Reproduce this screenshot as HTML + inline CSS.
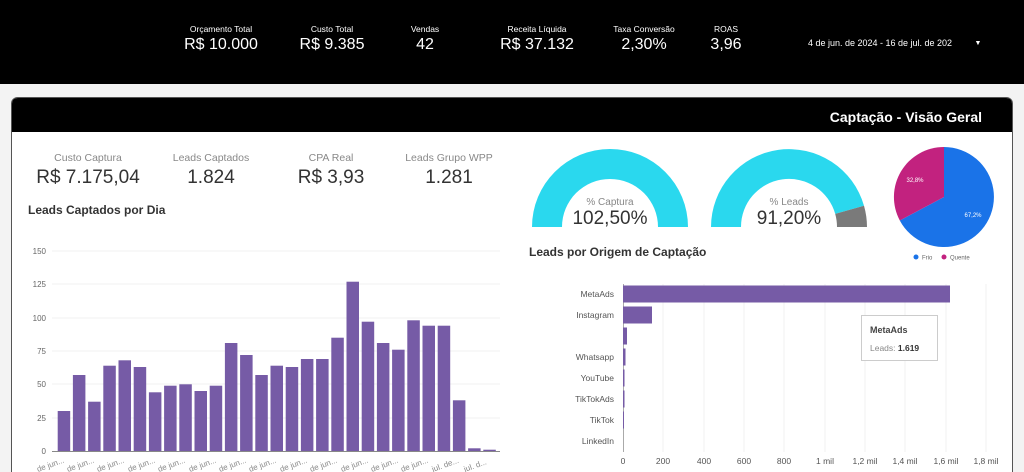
<!DOCTYPE html>
<html><head><meta charset="utf-8"><style>
body{margin:0;width:1024px;height:472px;overflow:hidden;background:#f2f2f2;font-family:"Liberation Sans",sans-serif;}
svg{display:block}
</style></head><body>
<svg width="1024" height="472" xmlns="http://www.w3.org/2000/svg" font-family="Liberation Sans, sans-serif">
<rect x="0" y="0" width="1024" height="84" fill="#000"/>
<rect x="0" y="84" width="1024" height="388" fill="#f3f3f3"/>
<g fill="#fff" text-anchor="middle">
<text x="221" y="32" font-size="8.5">Orçamento Total</text><text x="221" y="49" font-size="16">R$ 10.000</text>
<text x="332" y="32" font-size="8.5">Custo Total</text><text x="332" y="49" font-size="16">R$ 9.385</text>
<text x="425" y="32" font-size="8.5">Vendas</text><text x="425" y="49" font-size="16">42</text>
<text x="537" y="32" font-size="8.5">Receita Líquida</text><text x="537" y="49" font-size="16">R$ 37.132</text>
<text x="644" y="32" font-size="8.5">Taxa Conversão</text><text x="644" y="49" font-size="16">2,30%</text>
<text x="726" y="32" font-size="8.5">ROAS</text><text x="726" y="49" font-size="16">3,96</text>
<text x="880" y="46" font-size="9">4 de jun. de 2024 - 16 de jul. de 202</text>
<text x="978" y="45" font-size="7">▼</text>
</g>
<rect x="11.5" y="97.5" width="1001" height="380" rx="6" fill="#fff" stroke="#555"/>
<path d="M12,132 V104 Q12,98 18,98 H1006 Q1012,98 1012,104 V132 Z" fill="#000"/>
<text x="982" y="122" font-size="14" font-weight="bold" fill="#fff" text-anchor="end">Captação - Visão Geral</text>
<g text-anchor="middle">
<text x="88" y="161" font-size="10.5" fill="#888">Custo Captura</text><text x="88" y="183" font-size="19" fill="#333">R$ 7.175,04</text>
<text x="211" y="161" font-size="10.5" fill="#888">Leads Captados</text><text x="211" y="183" font-size="19" fill="#333">1.824</text>
<text x="331" y="161" font-size="10.5" fill="#888">CPA Real</text><text x="331" y="183" font-size="19" fill="#333">R$ 3,93</text>
<text x="449" y="161" font-size="10.5" fill="#888">Leads Grupo WPP</text><text x="449" y="183" font-size="19" fill="#333">1.281</text>
</g>
<text x="28" y="214" font-size="12" font-weight="bold" fill="#333">Leads Captados por Dia</text>
<g stroke="#f0f0f0"><line x1="52" y1="251" x2="500" y2="251"/><line x1="52" y1="284" x2="500" y2="284"/><line x1="52" y1="318" x2="500" y2="318"/><line x1="52" y1="351" x2="500" y2="351"/><line x1="52" y1="384" x2="500" y2="384"/><line x1="52" y1="418" x2="500" y2="418"/></g>
<line x1="52" y1="451.5" x2="500" y2="451.5" stroke="#888"/>
<g font-size="8" fill="#666" text-anchor="end"><text x="46" y="254">150</text><text x="46" y="287">125</text><text x="46" y="321">100</text><text x="46" y="354">75</text><text x="46" y="387">50</text><text x="46" y="421">25</text><text x="46" y="454">0</text></g>
<g fill="#765ba6">
<rect x="57.7" y="411" width="12.5" height="40"/>
<rect x="72.9" y="375" width="12.5" height="76"/>
<rect x="88.1" y="401.7" width="12.5" height="49.3"/>
<rect x="103.3" y="365.7" width="12.5" height="85.3"/>
<rect x="118.5" y="360.3" width="12.5" height="90.7"/>
<rect x="133.7" y="367" width="12.5" height="84"/>
<rect x="148.9" y="392.3" width="12.5" height="58.7"/>
<rect x="164.1" y="385.7" width="12.5" height="65.3"/>
<rect x="179.3" y="384.3" width="12.5" height="66.7"/>
<rect x="194.5" y="391" width="12.5" height="60"/>
<rect x="209.7" y="385.7" width="12.5" height="65.3"/>
<rect x="224.9" y="343" width="12.5" height="108"/>
<rect x="240.1" y="355" width="12.5" height="96"/>
<rect x="255.3" y="375" width="12.5" height="76"/>
<rect x="270.5" y="365.7" width="12.5" height="85.3"/>
<rect x="285.7" y="367" width="12.5" height="84"/>
<rect x="300.9" y="359" width="12.5" height="92"/>
<rect x="316.1" y="359" width="12.5" height="92"/>
<rect x="331.3" y="337.7" width="12.5" height="113.3"/>
<rect x="346.5" y="281.7" width="12.5" height="169.3"/>
<rect x="361.7" y="321.7" width="12.5" height="129.3"/>
<rect x="376.9" y="343" width="12.5" height="108"/>
<rect x="392.1" y="349.7" width="12.5" height="101.3"/>
<rect x="407.3" y="320.3" width="12.5" height="130.7"/>
<rect x="422.5" y="325.7" width="12.5" height="125.3"/>
<rect x="437.7" y="325.7" width="12.5" height="125.3"/>
<rect x="452.9" y="400.3" width="12.5" height="50.7"/>
<rect x="468.1" y="448.3" width="12.5" height="2.7"/>
<rect x="483.3" y="449.7" width="12.5" height="1.3"/>
</g>
<g font-size="8" fill="#888">
<text transform="translate(38,472) rotate(-20)">de jun...</text>
<text transform="translate(68,472) rotate(-20)">de jun...</text>
<text transform="translate(98,472) rotate(-20)">de jun...</text>
<text transform="translate(129,472) rotate(-20)">de jun...</text>
<text transform="translate(159,472) rotate(-20)">de jun...</text>
<text transform="translate(190,472) rotate(-20)">de jun...</text>
<text transform="translate(220,472) rotate(-20)">de jun...</text>
<text transform="translate(250,472) rotate(-20)">de jun...</text>
<text transform="translate(281,472) rotate(-20)">de jun...</text>
<text transform="translate(311,472) rotate(-20)">de jun...</text>
<text transform="translate(342,472) rotate(-20)">de jun...</text>
<text transform="translate(372,472) rotate(-20)">de jun...</text>
<text transform="translate(402,472) rotate(-20)">de jun...</text>
<text transform="translate(433,472) rotate(-20)">jul. de...</text>
<text transform="translate(465,472) rotate(-20)">jul. d...</text>
</g>
<path d="M532,227 A78,78 0 0 1 688,227 L658,227 A48,48 0 0 0 562,227 Z" fill="#2ad8ee"/>
<text x="610" y="205" font-size="10" fill="#888" text-anchor="middle">% Captura</text>
<text x="610" y="224" font-size="19" fill="#333" text-anchor="middle">102,50%</text>
<path d="M711,227 A78,78 0 0 1 864,205.7 L835.2,213.9 A48,48 0 0 0 741,227 Z" fill="#2ad8ee"/>
<path d="M864,205.7 A78,78 0 0 1 867,227 L837,227 A48,48 0 0 0 835.2,213.9 Z" fill="#7a7a7a"/>
<text x="789" y="205" font-size="10" fill="#888" text-anchor="middle">% Leads</text>
<text x="789" y="224" font-size="19" fill="#333" text-anchor="middle">91,20%</text>
<path d="M944,197 L944,147 A50,50 0 1 1 899.8,220.5 Z" fill="#1a73e8"/>
<path d="M944,197 L944,147 A50,50 0 0 0 899.8,220.5 Z" fill="#c2227f"/>
<text x="915" y="182" font-size="6" fill="#fff" text-anchor="middle">32,8%</text>
<text x="973" y="217" font-size="6" fill="#fff" text-anchor="middle">67,2%</text>
<circle cx="916" cy="257" r="2.5" fill="#1a73e8"/><text x="922" y="259.5" font-size="6" fill="#666">Frio</text>
<circle cx="944" cy="257" r="2.5" fill="#c2227f"/><text x="950" y="259.5" font-size="6" fill="#666">Quente</text>
<text x="529" y="256" font-size="12" font-weight="bold" fill="#333">Leads por Origem de Captação</text>
<g stroke="#f0f0f0"><line x1="663" y1="284" x2="663" y2="452"/><line x1="704" y1="284" x2="704" y2="452"/><line x1="744" y1="284" x2="744" y2="452"/><line x1="784" y1="284" x2="784" y2="452"/><line x1="825" y1="284" x2="825" y2="452"/><line x1="865" y1="284" x2="865" y2="452"/><line x1="905" y1="284" x2="905" y2="452"/><line x1="946" y1="284" x2="946" y2="452"/><line x1="986" y1="284" x2="986" y2="452"/></g>
<line x1="623.5" y1="284" x2="623.5" y2="452" stroke="#aaa"/>
<g fill="#765ba6">
<rect x="623" y="285.5" width="327" height="17"/>
<rect x="623" y="306.5" width="29" height="17"/>
<rect x="623" y="327.5" width="4" height="17"/>
<rect x="623" y="348.5" width="2.5" height="17"/>
<rect x="623" y="369.5" width="1.5" height="17"/>
<rect x="623" y="390.5" width="1.5" height="17"/>
<rect x="623" y="411.5" width="1" height="17"/>
</g>
<g font-size="8.5" fill="#555" text-anchor="end">
<text x="614" y="297">MetaAds</text><text x="614" y="318">Instagram</text><text x="614" y="360">Whatsapp</text><text x="614" y="381">YouTube</text><text x="614" y="402">TikTokAds</text><text x="614" y="423">TikTok</text><text x="614" y="444">LinkedIn</text>
</g>
<g font-size="8.5" fill="#555" text-anchor="middle">
<text x="623" y="464">0</text><text x="663" y="464">200</text><text x="704" y="464">400</text><text x="744" y="464">600</text><text x="784" y="464">800</text><text x="825" y="464">1 mil</text><text x="865" y="464">1,2 mil</text><text x="905" y="464">1,4 mil</text><text x="946" y="464">1,6 mil</text><text x="986" y="464">1,8 mil</text>
</g>
<rect x="861.5" y="315.5" width="76" height="45" fill="#fff" stroke="#ccc"/>
<text x="870" y="333" font-size="9" font-weight="bold" fill="#444">MetaAds</text>
<text x="870" y="351" font-size="8.5" fill="#888">Leads: <tspan font-weight="bold" fill="#333">1.619</tspan></text>
</svg>
</body></html>
